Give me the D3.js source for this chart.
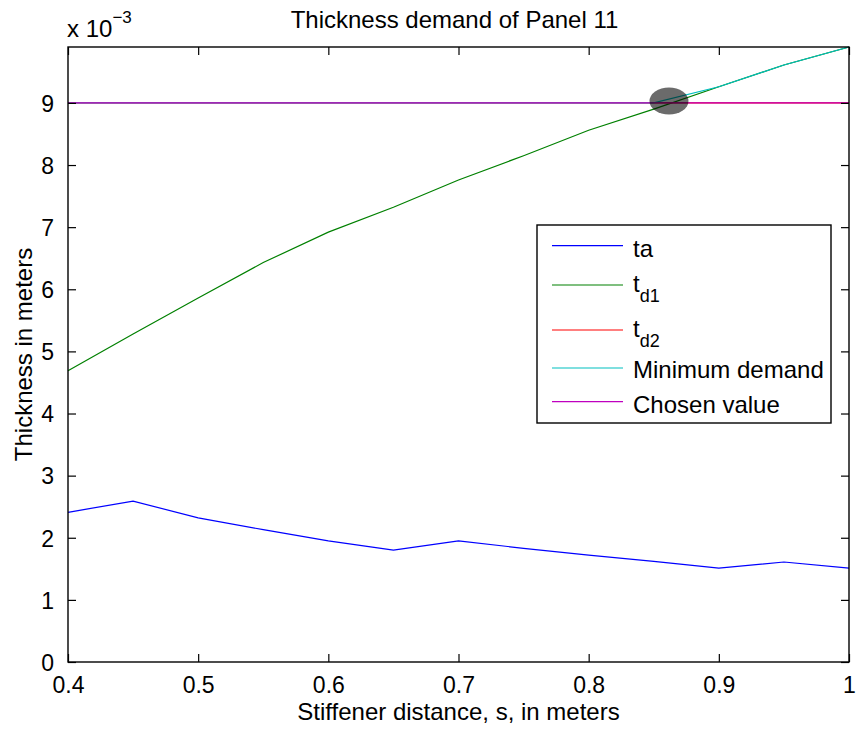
<!DOCTYPE html>
<html>
<head>
<meta charset="utf-8">
<script src="https://cdn.jsdelivr.net/npm/d3@7/dist/d3.min.js"></script>
<style>
  html, body { margin: 0; padding: 0; background: #fff; }
  svg { display: block; font-family: "Liberation Sans", Arial, Helvetica, sans-serif; }
</style>
</head>
<body>
<svg id="chart" width="858" height="729"></svg>
<script>
// Stiffener spacing s (m)
const spacing = [0.40, 0.45, 0.50, 0.55, 0.60, 0.65, 0.70, 0.75, 0.80, 0.85, 0.90, 0.95, 1.00];
// Thickness demands (m)
const ta      = [2.41e-3, 2.59e-3, 2.32e-3, 2.13e-3, 1.95e-3, 1.80e-3, 1.95e-3, 1.83e-3, 1.72e-3, 1.62e-3, 1.51e-3, 1.61e-3, 1.51e-3];
const td1     = [4.69e-3, 5.28e-3, 5.86e-3, 6.43e-3, 6.92e-3, 7.32e-3, 7.76e-3, 8.15e-3, 8.56e-3, 8.90e-3, 9.26e-3, 9.61e-3, 9.90e-3];
const td2     = [9.00e-3, 9.00e-3, 9.00e-3, 9.00e-3, 9.00e-3, 9.00e-3, 9.00e-3, 9.00e-3, 9.00e-3, 9.00e-3, 9.00e-3, 9.00e-3, 9.00e-3];
const minDemand = [9.00e-3, 9.00e-3, 9.00e-3, 9.00e-3, 9.00e-3, 9.00e-3, 9.00e-3, 9.00e-3, 9.00e-3, 9.00e-3, 9.26e-3, 9.61e-3, 9.90e-3];
const chosen  = [9.00e-3, 9.00e-3, 9.00e-3, 9.00e-3, 9.00e-3, 9.00e-3, 9.00e-3, 9.00e-3, 9.00e-3, 9.00e-3, 9.00e-3, 9.00e-3, 9.00e-3];
// Marked intersection point (s, t)
const markS = 0.8617, markT = 9.03e-3;

const xTicks = [0.4, 0.5, 0.6, 0.7, 0.8, 0.9, 1.0];
const yTicks = [0, 1e-3, 2e-3, 3e-3, 4e-3, 5e-3, 6e-3, 7e-3, 8e-3, 9e-3];

const series = [
  { name: "ta",             sub: null, values: ta,        color: "#0000ff" },
  { name: "t",              sub: "d1", values: td1,       color: "#008000" },
  { name: "t",              sub: "d2", values: td2,       color: "#ff0000" },
  { name: "Minimum demand", sub: null, values: minDemand, color: "#00bfbf" },
  { name: "Chosen value",   sub: null, values: chosen,    color: "#bf00bf" }
];

const W = 858, H = 729;
const m = { left: 68, right: 9, top: 47, bottom: 67 };
const iw = W - m.left - m.right, ih = H - m.top - m.bottom;

const svg = d3.select("#chart");
const g = svg.append("g").attr("transform", `translate(${m.left},${m.top})`);

const x = d3.scaleLinear().domain([0.4, 1.0]).range([0, iw]);
const y = d3.scaleLinear().domain([0, 9.9e-3]).range([ih, 0]);

// Data lines
const line = d3.line().x((d, i) => x(spacing[i])).y(d => y(d));
series.forEach(s => {
  g.append("path")
    .datum(s.values)
    .attr("d", line)
    .attr("fill", "none")
    .attr("stroke", s.color)
    .attr("stroke-width", 1.2);
});

// Highlight of the crossing point
g.append("ellipse")
  .attr("cx", x(markS))
  .attr("cy", y(markT))
  .attr("rx", 19.5)
  .attr("ry", 13.5)
  .attr("fill", "#000")
  .attr("fill-opacity", 0.58);

// Axes, ticks pointing inward on all four sides
const tickFont = 23;
const fmtX = d => (d === 1 ? "1" : d3.format(".1f")(d));
const fmtY = d => String(Math.round(d * 1000));

const axB = g.append("g").attr("transform", `translate(0,${ih})`)
  .call(d3.axisBottom(x).tickValues(xTicks).tickFormat(fmtX).tickSizeInner(-8).tickSizeOuter(0).tickPadding(15));
const axT = g.append("g")
  .call(d3.axisTop(x).tickValues(xTicks).tickFormat("").tickSizeInner(-8).tickSizeOuter(0));
const axL = g.append("g")
  .call(d3.axisLeft(y).tickValues(yTicks).tickFormat(fmtY).tickSizeInner(-8).tickSizeOuter(0).tickPadding(14));
const axR = g.append("g").attr("transform", `translate(${iw},0)`)
  .call(d3.axisRight(y).tickValues(yTicks).tickFormat("").tickSizeInner(-8).tickSizeOuter(0));

[axB, axT, axL, axR].forEach(a => {
  a.select(".domain").remove();
  a.selectAll(".tick line").attr("stroke", "#000").attr("stroke-width", 1.2);
  a.selectAll("text").attr("fill", "#000").style("font-size", tickFont + "px")
    .style("font-family", '"Liberation Sans", Arial, sans-serif');
});
axL.selectAll("text").attr("dy", "0.36em");

// Frame
g.append("rect")
  .attr("x", 0).attr("y", 0).attr("width", iw).attr("height", ih)
  .attr("fill", "none").attr("stroke", "#000").attr("stroke-width", 1.4);

// Title and axis labels
svg.append("text")
  .attr("x", m.left + iw / 2 - 4).attr("y", 28)
  .attr("text-anchor", "middle")
  .style("font-size", "24px")
  .text("Thickness demand of Panel 11");

svg.append("text")
  .attr("x", m.left + iw / 2).attr("y", 720)
  .attr("text-anchor", "middle")
  .style("font-size", "24px")
  .text("Stiffener distance, s, in meters");

svg.append("text")
  .attr("transform", `translate(32,${m.top + ih / 2}) rotate(-90)`)
  .attr("text-anchor", "middle")
  .style("font-size", "24px")
  .text("Thickness in meters");

// Exponent of the y axis
const expo = svg.append("text").attr("x", 67).attr("y", 37).style("font-size", "24px");
expo.append("tspan").text("x 10");
expo.append("tspan").attr("dy", -14).style("font-size", "17px").text("\u22123");

// Legend
const lg = svg.append("g").attr("transform", "translate(537,225)");
lg.append("rect").attr("width", 294).attr("height", 198)
  .attr("fill", "#fff").attr("stroke", "#000").attr("stroke-width", 1.4);
const rowY = [20.7, 60, 105, 143, 176.7];
const baseOff = [11, 6.7, 6.7, 10.3, 11.6];
series.forEach((s, i) => {
  lg.append("line")
    .attr("x1", 15).attr("x2", 86)
    .attr("y1", rowY[i]).attr("y2", rowY[i])
    .attr("stroke", s.color).attr("stroke-width", 1.2);
  const t = lg.append("text")
    .attr("x", 96).attr("y", rowY[i] + baseOff[i])
    .style("font-size", "24px");
  t.append("tspan").text(s.name);
  if (s.sub) t.append("tspan").attr("dy", 10).style("font-size", "18px").text(s.sub);
});
</script>
</body>
</html>
